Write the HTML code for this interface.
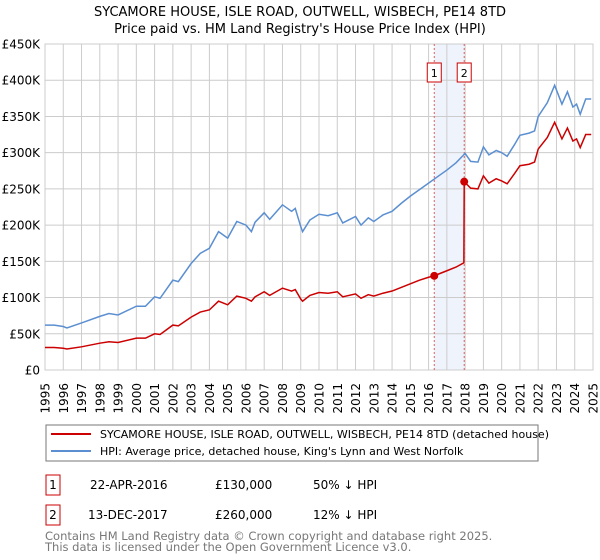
<!DOCTYPE html>
<html><head><meta charset="utf-8"><style>
body{margin:0;background:#fff;font-family:"Liberation Sans","DejaVu Sans",sans-serif;}
svg{display:block}
</style></head><body>
<svg width="600" height="560" xmlns="http://www.w3.org/2000/svg" font-family="DejaVu Sans, Liberation Sans, sans-serif">
<g>
<text x="300" y="16" text-anchor="middle" font-size="13">SYCAMORE HOUSE, ISLE ROAD, OUTWELL, WISBECH, PE14 8TD</text>
<text x="300" y="33" text-anchor="middle" font-size="13">Price paid vs. HM Land Registry's House Price Index (HPI)</text>
</g>
<g id="grid"></g>
<g id="yaxis"></g>
<g id="xaxis"></g>
<g id="marks"></g>
<g>
<rect x="46" y="425" width="492" height="36" fill="#fff" stroke="#777"/>
<line x1="51" y1="434" x2="91" y2="434" stroke="#cc0000" stroke-width="2"/>
<text x="100" y="438" font-size="11">SYCAMORE HOUSE, ISLE ROAD, OUTWELL, WISBECH, PE14 8TD (detached house)</text>
<line x1="51" y1="451" x2="91" y2="451" stroke="#5b8fd1" stroke-width="2"/>
<text x="100" y="455" font-size="11">HPI: Average price, detached house, King's Lynn and West Norfolk</text>
</g>
<g font-size="12">
<rect x="46" y="475" width="14" height="20" fill="#fff" stroke="#cc0000"/>
<text x="53" y="489" text-anchor="middle">1</text>
<text x="90" y="489">22-APR-2016</text>
<text x="215" y="489">£130,000</text>
<text x="313" y="489">50% ↓ HPI</text>
<rect x="46" y="505" width="14" height="20" fill="#fff" stroke="#cc0000"/>
<text x="53" y="519" text-anchor="middle">2</text>
<text x="88" y="519">13-DEC-2017</text>
<text x="215" y="519">£260,000</text>
<text x="313" y="519">12% ↓ HPI</text>
</g>
<g font-size="11.5" fill="#777">
<text x="45" y="540">Contains HM Land Registry data © Crown copyright and database right 2025.</text>
<text x="45" y="551">This data is licensed under the Open Government Licence v3.0.</text>
</g>
</svg>
<script>
const hpiYears=[1995,1995.5,1996,1996.2,1997,1998,1998.5,1999,2000,2000.5,2001,2001.3,2002,2002.3,2003,2003.5,2004,2004.5,2005,2005.5,2006,2006.3,2006.5,2007,2007.3,2008,2008.5,2008.7,2009,2009.1,2009.5,2010,2010.5,2011,2011.3,2012,2012.3,2012.7,2013,2013.5,2014,2014.5,2015,2015.5,2016,2016.5,2017,2017.5,2018,2018.3,2018.7,2019,2019.3,2019.7,2020,2020.3,2020.7,2021,2021.5,2021.8,2022,2022.5,2022.9,2023.3,2023.6,2023.9,2024.1,2024.3,2024.6,2024.9];
const hpiValues=[62,62,60,58,65,74,78,76,88,88,101,99,124,122,147,161,168,191,182,205,200,191,204,217,208,228,219,223,198,191,207,215,213,217,203,212,200,210,205,214,219,230,240,249,258,267,276,286,299,288,287,308,297,303,300,295,311,324,327,330,350,369,393,367,384,363,367,353,374,374];
const priceYears=[1995,1995.5,1996,1996.2,1997,1998,1998.5,1999,2000,2000.5,2001,2001.3,2002,2002.3,2003,2003.5,2004,2004.5,2005,2005.5,2006,2006.3,2006.5,2007,2007.3,2008,2008.5,2008.7,2009,2009.1,2009.5,2010,2010.5,2011,2011.3,2012,2012.3,2012.7,2013,2013.5,2014,2014.5,2015,2015.5,2016,2016.31,2016.5,2017,2017.5,2017.93,2017.95,2018.3,2018.7,2019,2019.3,2019.7,2020,2020.3,2020.7,2021,2021.5,2021.8,2022,2022.5,2022.9,2023.3,2023.6,2023.9,2024.1,2024.3,2024.6,2024.9];
const priceValues=[31,31,30,29,32,37,39,38,44,44,50,49,62,61,73,80,83,95,90,102,99,95,101,108,103,113,109,111,98,95,103,107,106,108,101,105,99,104,102,106,109,114,119,124,128,130,132,137,142,148,260,251,250,268,258,264,261,257,271,282,284,287,305,321,342,319,334,316,319,307,325,325];
const saleYears=[2016.31,2017.95];
const saleValues=[130,260];
const saleLabels=["1","2"];
const yTicks=[0,50,100,150,200,250,300,350,400,450];
const yTickLabels=["£0","£50K","£100K","£150K","£200K","£250K","£300K","£350K","£400K","£450K"];
const xTicks=[1995,1996,1997,1998,1999,2000,2001,2002,2003,2004,2005,2006,2007,2008,2009,2010,2011,2012,2013,2014,2015,2016,2017,2018,2019,2020,2021,2022,2023,2024,2025];

const NS="http://www.w3.org/2000/svg";
const X0=45,X1=593,Y0=370,Y1=44;
const x=y=>X0+(y-1995)/30*(X1-X0);
const yv=v=>Y0-v/450*(Y0-Y1);
function mk(tag,attrs,parent){const e=document.createElementNS(NS,tag);for(const k in attrs)e.setAttribute(k,attrs[k]);parent.appendChild(e);return e;}
const grid=document.getElementById('grid'),ya=document.getElementById('yaxis'),xa=document.getElementById('xaxis'),marks=document.getElementById('marks');
// shaded band
const band=mk('rect',{x:x(saleYears[0]),y:Y1,width:x(saleYears[1])-x(saleYears[0]),height:Y0-Y1,fill:'#eef3fc'},grid);


yTicks.forEach((v,i)=>{
  const l=mk('line',{x1:X0,x2:X1,y1:yv(v),y2:yv(v),stroke:'#ccc'},grid);
  
  
  const t=mk('text',{x:40,y:yv(v)+4.5,'text-anchor':'end','font-size':'12'},ya);
  
  
  t.textContent=yTickLabels[i];
});
xTicks.forEach(yr=>{
  const l=mk('line',{x1:x(yr),x2:x(yr),y1:Y1,y2:Y0,stroke:'#ccc'},grid);
  
  
  const t=mk('text',{x:0,y:0,'text-anchor':'end','font-size':'12',transform:`translate(${x(yr)+4.5},383) rotate(-90)`},xa);
  
  
  t.textContent=yr;
});
const bx=mk('rect',{x:X0,y:Y1,width:X1-X0,height:Y0-Y1,fill:'none',stroke:'#ccc'},grid);


saleYears.forEach((s,i)=>{
  const l=mk('line',{x1:x(s),x2:x(s),y1:Y1,y2:Y0,stroke:'#e06060','stroke-dasharray':'2,2'},marks);
  
  
  const r=mk('rect',{x:x(s)-7,y:63,width:14,height:19,fill:'#fff',stroke:'#cc0000'},marks);
  
  
  const t=mk('text',{x:x(s),y:77,'text-anchor':'middle','font-size':'11'},marks);
  
  
  t.textContent=saleLabels[i];
});
const hp=mk('polyline',{points:hpiYears.map((t,i)=>x(t)+','+yv(hpiValues[i])).join(' '),fill:'none',stroke:'#5b8fd1','stroke-width':'1.5'},marks);


const pp=mk('polyline',{points:priceYears.map((t,i)=>x(t)+','+yv(priceValues[i])).join(' '),fill:'none',stroke:'#cc0000','stroke-width':'1.5'},marks);


saleYears.forEach((s,i)=>{
  const c=mk('circle',{cx:x(s),cy:yv(saleValues[i]),r:4,fill:'#cc0000'},marks);
  
  
});
</script>
</body></html>
